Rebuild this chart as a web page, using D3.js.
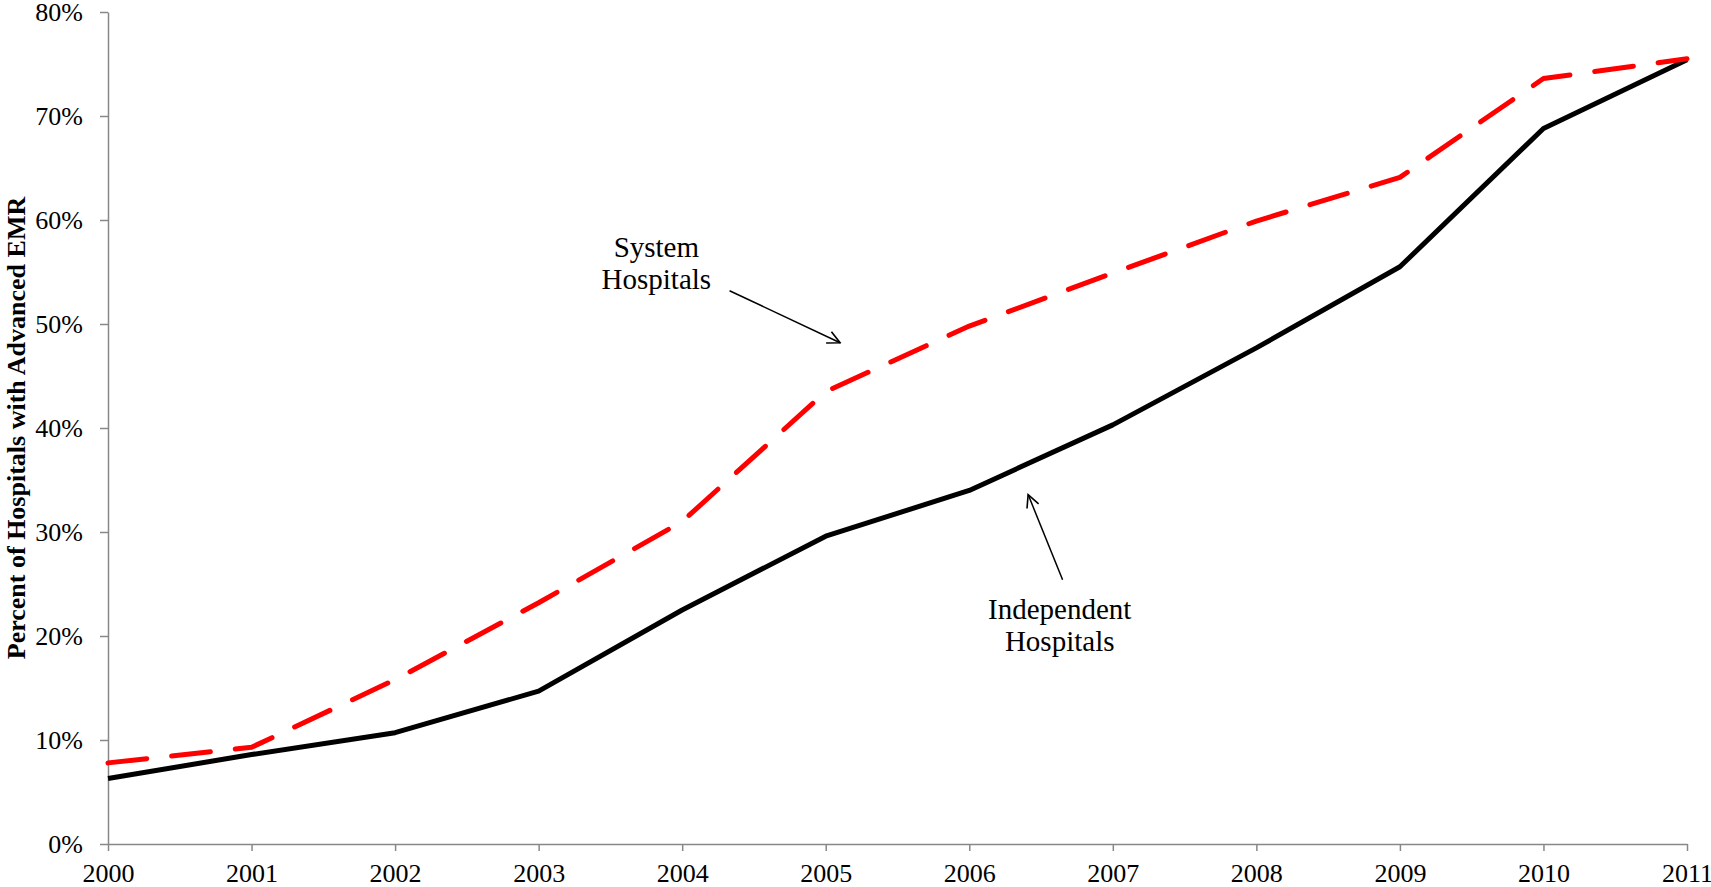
<!DOCTYPE html>
<html>
<head>
<meta charset="utf-8">
<script src="https://cdn.jsdelivr.net/npm/d3@7"></script>
<style>
  html, body { margin: 0; padding: 0; background: #fff; }
  svg { display: block; font-family: "Liberation Serif", "Times New Roman", serif; }
</style>
</head>
<body>
<div id="chart"></div>
<script>
// data
var years = [2000, 2001, 2002, 2003, 2004, 2005, 2006, 2007, 2008, 2009, 2010, 2011];
var independent = [6.3, 8.6, 10.7, 14.7, 22.5, 29.6, 34.0, 40.3, 47.7, 55.5, 68.8, 75.4];
var system = [7.8, 9.3, 15.8, 23.2, 31.0, 43.5, 49.8, 54.9, 59.9, 64.1, 73.6, 75.5];
var yTicks = [0, 10, 20, 30, 40, 50, 60, 70, 80];
var yTitle = "Percent of Hospitals with Advanced EMR";

const width = 1711;
const height = 887;

const svg = d3.select("#chart")
    .append("svg")
    .attr("width", width)
    .attr("height", height);

const x = d3.scaleLinear().domain([2000, 2011]).range([108, 1687]);
const y = d3.scaleLinear().domain([0, 80]).range([844, 12]);

// arrow head
svg.append("defs").append("marker")
    .attr("id", "arrow")
    .attr("viewBox", "0 0 12 12")
    .attr("refX", 11)
    .attr("refY", 6)
    .attr("markerWidth", 15)
    .attr("markerHeight", 15)
    .attr("markerUnits", "userSpaceOnUse")
    .attr("orient", "auto")
    .append("path")
    .attr("d", "M1,1 L11,6 L1,11")
    .style("fill", "none")
    .style("stroke", "#000")
    .style("stroke-width", 1.3);

// axes
const xAxis = svg.append("g")
    .attr("transform", `translate(0,${y(0)})`)
    .call(d3.axisBottom(x).tickValues(years).tickFormat(d3.format("d")).tickSize(7).tickSizeOuter(0).tickPadding(13));

const yAxis = svg.append("g")
    .attr("transform", `translate(${x(2000)},0)`)
    .call(d3.axisLeft(y).tickValues(yTicks).tickFormat(d => d + "%").tickSize(8).tickSizeOuter(0).tickPadding(17));

[xAxis, yAxis].forEach(function (a) {
    a.select(".domain").style("stroke", "#888").style("stroke-width", 1.5);
    a.selectAll(".tick line").style("stroke", "#888").style("stroke-width", 1.5);
    a.selectAll(".tick text")
        .style("font-family", "'Liberation Serif', 'Times New Roman', serif")
        .style("font-size", "26px")
        .style("fill", "#000");
});

// y title
svg.append("text")
    .attr("transform", `translate(25,${(y(0) + y(80)) / 2}) rotate(-90)`)
    .style("text-anchor", "middle")
    .style("font-weight", "bold")
    .style("font-size", "26px")
    .text(yTitle);

const line = d3.line()
    .x((d, i) => x(years[i]))
    .y(d => y(d));

svg.append("path")
    .datum(independent)
    .attr("d", line)
    .style("fill", "none")
    .style("stroke", "#000")
    .style("stroke-width", 5)
    .style("stroke-linejoin", "round");

svg.append("path")
    .datum(system)
    .attr("d", line)
    .style("fill", "none")
    .style("stroke", "#ff0000")
    .style("stroke-width", 5)
    .style("stroke-linecap", "round")
    .style("stroke-linejoin", "round")
    .style("stroke-dasharray", "39,25");

// annotations
function label(cx, cy, lines) {
    const t = svg.append("text")
        .attr("x", x(cx))
        .attr("y", y(cy))
        .style("text-anchor", "middle")
        .style("font-size", "29px");
    lines.forEach(function (s, i) {
        t.append("tspan").attr("x", x(cx)).attr("dy", i === 0 ? 0 : 32).text(s);
    });
}

function arrow(x1, y1, x2, y2) {
    svg.append("line")
        .attr("x1", x(x1)).attr("y1", y(y1))
        .attr("x2", x(x2)).attr("y2", y(y2))
        .style("stroke", "#000")
        .style("stroke-width", 1.5)
        .attr("marker-end", "url(#arrow)");
}

label(2003.82, 56.4, ["System", "Hospitals"]);
arrow(2004.33, 53.2, 2005.10, 48.2);

label(2006.63, 21.6, ["Independent", "Hospitals"]);
arrow(2006.65, 25.4, 2006.41, 33.6);
</script>
</body>
</html>
